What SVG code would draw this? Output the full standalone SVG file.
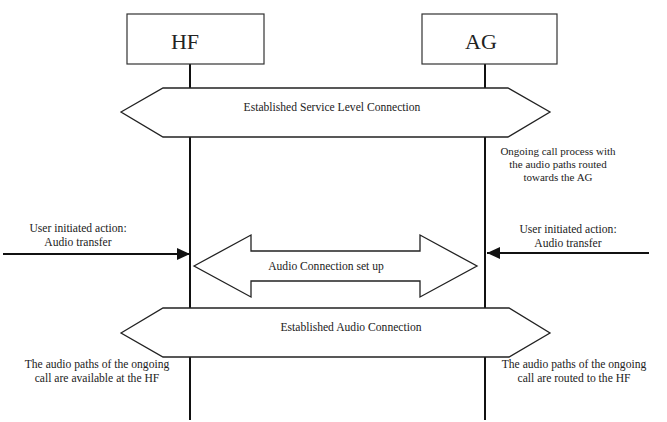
<svg xmlns="http://www.w3.org/2000/svg" width="667" height="422" viewBox="0 0 667 422">
<style>
.box{fill:#fff;stroke:#333;stroke-width:1.2}
.life{stroke:#111;stroke-width:2;fill:none}
.hex{fill:#fff;stroke:#222;stroke-width:1.3}
.arr{stroke:#111;stroke-width:2;fill:none}
text{font-family:'Liberation Serif','Times New Roman',Tinos,'DejaVu Serif',serif;fill:#222;text-anchor:middle}
.t{font-size:11.6px}
.n{font-size:11px}
.big{font-size:22px}
</style>
<defs>
<marker id="ah" markerWidth="13" markerHeight="12" refX="13" refY="6" orient="auto" markerUnits="userSpaceOnUse">
<path d="M0,0 L13,6 L0,12 Z" fill="#111"/>
</marker>
</defs>
<rect width="667" height="422" fill="#fff"/>
<g id="HF">
<line class="life" x1="190" y1="64" x2="190" y2="420"/>
<rect class="box" x="127" y="14" width="137" height="50"/>
<text class="big" x="185" y="49">HF</text>
</g>
<g id="AG">
<line class="life" x1="485" y1="64" x2="485" y2="420"/>
<rect class="box" x="422" y="14" width="135" height="50"/>
<text class="big" x="481" y="49">AG</text>
</g>
<g id="slc">
<polygon class="hex" points="121,112 163,88 508,88 550,112 508,137 163,137"/>
<text class="t" x="332" y="111">Established Service Level Connection</text>
</g>
<g id="eac">
<polygon class="hex" points="121,333 163,308 509,308 550,333 509,357 163,357"/>
<text class="t" x="351" y="331">Established Audio Connection</text>
</g>
<g id="connectors">
<line class="arr" x1="3" y1="254" x2="190" y2="254" marker-end="url(#ah)"/>
<line class="arr" x1="649" y1="253" x2="487" y2="253" marker-end="url(#ah)"/>
<g id="acs">
<polygon class="hex" points="194,266 251,235 251,251 420,251 420,235 477,266 420,297 420,281 251,281 251,297"/>
<text class="t" x="326" y="270">Audio Connection set up</text>
</g>
</g>
<g id="notes">
<text class="n" x="558" y="155">Ongoing call process with</text>
<text class="n" x="558" y="168">the audio paths routed</text>
<text class="n" x="558" y="181">towards the AG</text>
<text class="t" x="78" y="232">User initiated action:</text>
<text class="t" x="78" y="246">Audio transfer</text>
<text class="t" x="568" y="233">User initiated action:</text>
<text class="t" x="568" y="247">Audio transfer</text>
<text class="t" x="97" y="368">The audio paths of the ongoing</text>
<text class="t" x="97" y="382">call are available at the HF</text>
<text class="t" x="574" y="368">The audio paths of the ongoing</text>
<text class="t" x="574" y="382">call are routed to the HF</text>
</g>
</svg>
